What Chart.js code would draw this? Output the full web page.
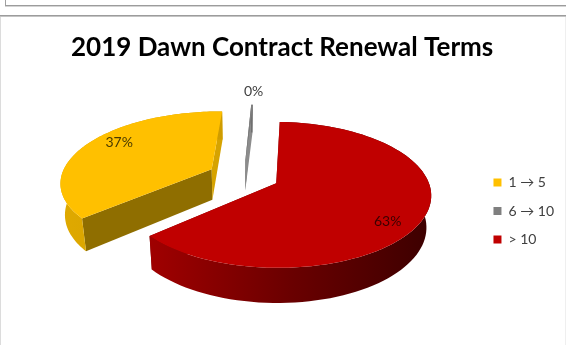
<!DOCTYPE html>
<html>
<head>
<meta charset="utf-8">
<style>
  html, body { margin: 0; padding: 0; background: #fff; overflow: hidden; }
  #stage { position: relative; width: 566px; height: 345px; }
  canvas { position: absolute; left: 0; top: 0; }
  .rule { position: absolute; }
</style>
<script src="https://cdn.jsdelivr.net/npm/chart.js@4"></script>
</head>
<body>
<div id="stage">
  <canvas id="chart" width="566" height="345"></canvas>
  <div class="rule" style="left:5px;top:0;width:1px;height:6px;background:#a0a0a0"></div>
  <div class="rule" style="left:5px;top:5px;width:561px;height:1px;background:#9c9c9c"></div>
  <div class="rule" style="left:5px;top:6px;width:561px;height:1px;background:#d4d4d4"></div>
  <div class="rule" style="left:0;top:15px;width:566px;height:1px;background:#9c9c9c"></div>
  <div class="rule" style="left:0;top:16px;width:566px;height:1px;background:#c4c4c4"></div>
  <div class="rule" style="left:0;top:17px;width:1px;height:328px;background:#dcdcdc"></div>
  <div class="rule" style="left:565px;top:17px;width:1px;height:328px;background:#efefef"></div>
</div>
<script>
const termLabels = ['1 \u2192 5', '6 \u2192 10', '> 10'];
const termShares = [37, 0.2, 63];
const sliceColors = ['#FFC000', '#7F7F7F', '#C00000'];

// Side-wall shading for each slice: outer rim stops, then the two cut faces.
const rimShades = [['#dfa900', '#cf9c00'], ['#6e6e6e', '#6e6e6e'], ['#a00000', '#6a0000', '#3c0000']];
const startCutShades = ['#8f6e00', '#6a6a6a', '#7a0000'];
const endCutShades = ['#d6a300', '#8c8c8c', '#7a0000'];
const labelColors = ['#4a3a00', '#404040', '#3a0000'];
const labelRadii = [0.812, 1.28, 0.83];

// Tilted-plane camera: maps pie-plane coordinates (radius = 1) to the canvas.
const camera = { x: 243.5, y: 176, a: 150.2, skew: 3.5, b: 68.8, k: 0.158 };
const explode = 0.24;
const wall = { baseX: 240, squeeze: 0.975, depth: 28, grow: 0.045, fromY: 110 };

function project(u, v) {
  const w = 1 + camera.k * v;
  return { x: camera.x + (camera.a * u + camera.skew * v) / w, y: camera.y - camera.b * v / w };
}
function drop(p) {
  return {
    x: wall.baseX + (p.x - wall.baseX) * wall.squeeze,
    y: p.y + wall.depth + (p.y - wall.fromY) * wall.grow
  };
}
function polygon(ctx, points) {
  ctx.beginPath();
  points.forEach((p, i) => (i ? ctx.lineTo(p.x, p.y) : ctx.moveTo(p.x, p.y)));
  ctx.closePath();
}

const tiltedPie = {
  id: 'tiltedPie',
  beforeDatasetsDraw(chart) {
    const { ctx } = chart;
    const arcs = chart.getDatasetMeta(0).data;
    const total = termShares.reduce((s, n) => s + n, 0);

    arcs.forEach((arc, i) => {
      const { startAngle, endAngle } = arc;
      const mid = (startAngle + endAngle) / 2;
      const cu = Math.cos(mid) * explode;
      const cv = -Math.sin(mid) * explode;
      const apex = project(cu, cv);
      const edge = [];
      const steps = 96;
      for (let s = 0; s <= steps; s++) {
        const t = startAngle + (endAngle - startAngle) * s / steps;
        edge.push(project(cu + Math.cos(t), cv - Math.sin(t)));
      }
      const first = edge[0];
      const last = edge[edge.length - 1];

      // The two cut faces go down first so the rim and top can cover them.
      polygon(ctx, [apex, first, drop(first), drop(apex)]);
      ctx.fillStyle = startCutShades[i];
      ctx.fill();
      polygon(ctx, [apex, last, drop(last), drop(apex)]);
      ctx.fillStyle = endCutShades[i];
      ctx.fill();

      // Outer rim, with shading running left to right.
      const xs = edge.map(p => p.x);
      const rim = ctx.createLinearGradient(Math.min(...xs), 0, Math.max(...xs) + 1, 0);
      rimShades[i].forEach((c, n) => rim.addColorStop(n / (rimShades[i].length - 1), c));
      polygon(ctx, edge.concat(edge.map(drop).reverse()));
      ctx.fillStyle = rim;
      ctx.fill();

      // Top face.
      polygon(ctx, [apex].concat(edge));
      ctx.fillStyle = sliceColors[i];
      ctx.fill();
    });

    // Percentage labels sit on the top face, or beyond the rim for a very thin slice.
    ctx.font = '14px Lato';
    ctx.textAlign = 'center';
    ctx.textBaseline = 'middle';
    arcs.forEach((arc, i) => {
      const { startAngle, endAngle } = arc;
      const mid = (startAngle + endAngle) / 2;
      const cu = Math.cos(mid) * explode;
      const cv = -Math.sin(mid) * explode;
      const t = startAngle + (endAngle - startAngle) * 0.55;
      const r = labelRadii[i];
      const p = project(cu + Math.cos(t) * r, cv - Math.sin(t) * r);
      ctx.fillStyle = labelColors[i];
      ctx.fillText(Math.round(termShares[i] / total * 100) + '%', p.x, p.y);
    });
    return false;
  }
};

new Chart(document.getElementById('chart'), {
  type: 'pie',
  data: {
    labels: termLabels,
    datasets: [{ data: termShares, backgroundColor: sliceColors, borderWidth: 0 }]
  },
  plugins: [tiltedPie],
  options: {
    responsive: false,
    animation: false,
    events: [],
    rotation: 228.5,
    layout: { padding: { left: 71, right: 2, top: 32, bottom: 84 } },
    plugins: {
      tooltip: { enabled: false },
      title: {
        display: true,
        align: 'start',
        text: '2019 Dawn Contract Renewal Terms',
        color: '#000',
        font: { family: 'Lato', size: 26, weight: 'bold' },
        padding: { top: 0, bottom: 55 }
      },
      legend: {
        position: 'right',
        align: 'end',
        labels: {
          boxWidth: 8,
          boxHeight: 8,
          padding: 14.5,
          color: '#404040',
          font: { family: 'Lato', size: 14 }
        }
      }
    }
  }
});
</script>
</body>
</html>
